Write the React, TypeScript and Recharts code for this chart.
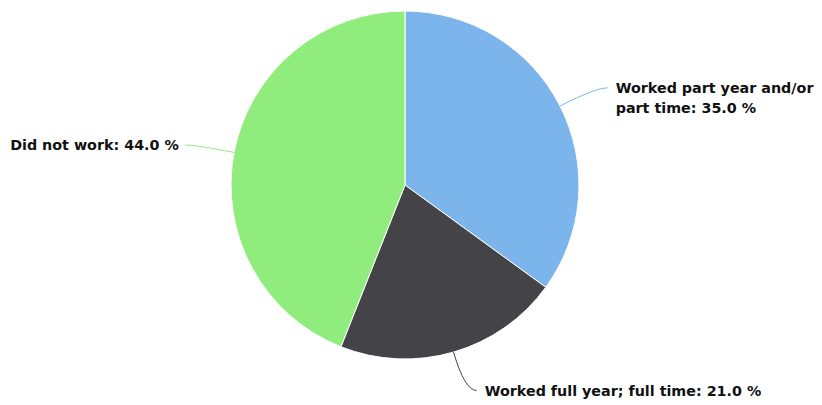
import { PieChart, Pie, Cell } from "recharts";

const names = ["Worked part year and/or part time", "Worked full year; full time", "Did not work"];
const shares = [35.0, 21.0, 44.0];
const colors = ["#7cb5ec", "#434348", "#90ed7d"];

const data = names.map((name, i) => ({ name, value: shares[i] }));

const RAD = Math.PI / 180;
const CHAR_W = 8.6;

function wrap(text: string, maxW: number) {
  const words = text.split(" ");
  const lines: string[] = [];
  let cur = "";
  for (const w of words) {
    const next = cur ? cur + " " + w : w;
    if (next.length * CHAR_W > maxW && cur) {
      lines.push(cur);
      cur = w;
    } else cur = next;
  }
  if (cur) lines.push(cur);
  return lines;
}

const renderLabel = (props: any) => {
  const { cx, cy, midAngle, outerRadius, index, name, value } = props;
  const cos = Math.cos(-midAngle * RAD);
  const sin = Math.sin(-midAngle * RAD);
  const sx = cx + outerRadius * cos;
  const sy = cy + outerRadius * sin;
  const mx = cx + (outerRadius + 40) * cos;
  const my = cy + (outerRadius + 40) * sin;
  const right = cos >= 0;
  const ex = mx + (right ? 12 : -10);
  const tx = ex + (right ? 8 : -6);
  const text = `${name}: ${value.toFixed(1)} %`;
  const avail = right ? 822 - tx : tx;
  const lines = wrap(text, avail);
  return (
    <g key={`lbl-${index}`}>
      <path
        d={`M${sx},${sy} Q${mx},${my} ${ex},${my}`}
        stroke={colors[index]}
        strokeWidth={1}
        fill="none"
      />
      <text
        x={tx}
        y={my}
        textAnchor={right ? "start" : "end"}
        dominantBaseline="central"
        fontSize={14.3}
        fontWeight="bold"
        fill="#111"
      >
        {lines.map((l, j) => (
          <tspan key={j} x={tx} dy={j === 0 ? 0 : 20}>
            {l}
          </tspan>
        ))}
      </text>
    </g>
  );
};

export default function App() {
  return (
    <div
      style={{
        position: "absolute",
        left: 0,
        top: 0,
        width: 822,
        height: 405,
        background: "#fff",
        fontFamily: "'DejaVu Sans', sans-serif",
      }}
    >
      <PieChart width={822} height={405} margin={{ top: 0, right: 0, bottom: 0, left: 0 }}>
        <Pie
          data={data}
          dataKey="value"
          nameKey="name"
          cx={405}
          cy={185}
          outerRadius={174}
          startAngle={90}
          endAngle={-270}
          stroke="#ffffff"
          strokeWidth={1}
          label={renderLabel}
          labelLine={false}
          isAnimationActive={false}
        >
          {data.map((d, i) => (
            <Cell key={d.name} fill={colors[i]} />
          ))}
        </Pie>
      </PieChart>
    </div>
  );
}
